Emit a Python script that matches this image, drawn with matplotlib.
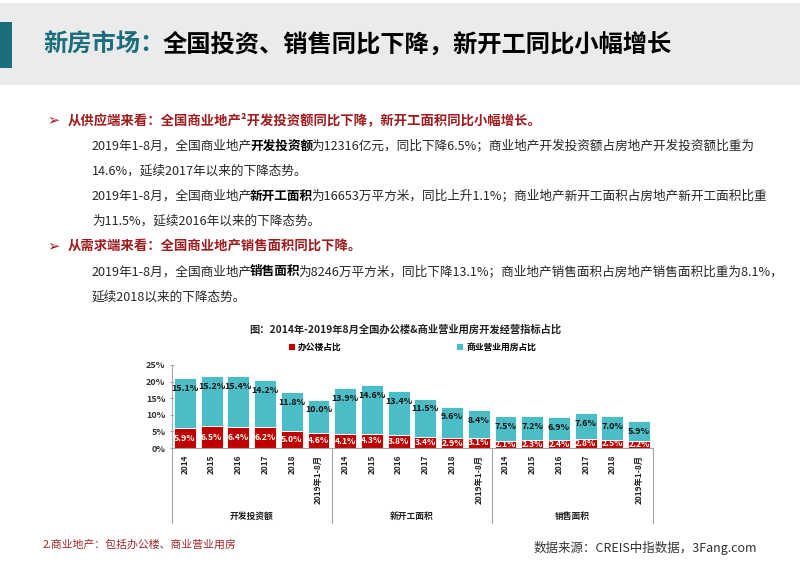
import matplotlib
matplotlib.use("Agg")
import matplotlib.pyplot as plt
import matplotlib.transforms as mtransforms
from matplotlib.patches import Rectangle
from matplotlib.lines import Line2D
import numpy as np

plt.rcParams['font.family'] = ['Noto Sans CJK SC', 'DejaVu Sans']
FAM = ['Noto Sans CJK SC', 'DejaVu Sans']

# 数据
groups = ['开发投资额', '新开工面积', '销售面积']
years = ['2014', '2015', '2016', '2017', '2018', '2019年1-8月']
office = [5.9, 6.5, 6.4, 6.2, 5.0, 4.6,
          4.1, 4.3, 3.8, 3.4, 2.9, 3.1,
          2.1, 2.3, 2.4, 2.8, 2.5, 2.2]
commercial = [15.1, 15.2, 15.4, 14.2, 11.8, 10.0,
              13.9, 14.6, 13.4, 11.5, 9.6, 8.4,
              7.5, 7.2, 6.9, 7.6, 7.0, 5.9]
yticks = [0, 5, 10, 15, 20, 25]

RED = '#C00000'
CYAN = '#4BBDC6'
DARKRED = '#9E1B1E'
TEAL = '#1B6E7E'

W, H = 800, 565
fig = plt.figure(figsize=(8, 5.65), dpi=100)
fig.patch.set_facecolor('white')


def fx(px):
    return px / W


def fy(py):
    return 1 - py / H


# 顶部标题栏
fig.patches.append(Rectangle((0, fy(85)), 1, fy(3) - fy(85), transform=fig.transFigure,
                             facecolor='#EBEBEB', edgecolor='none', zorder=0))
fig.patches.append(Rectangle((0, fy(68)), fx(12), fy(22) - fy(68), transform=fig.transFigure,
                             facecolor=TEAL, edgecolor='none', zorder=1))

renderer = fig.canvas.get_renderer()


def draw_runs(x, y, runs, size):
    # 逐段绘制文字（部分加粗 / 变色）
    for s, w, c in runs:
        t = fig.text(x, y, s, fontsize=size, fontweight=w, color=c,
                     ha='left', va='center', family=FAM)
        bb = t.get_window_extent(renderer=renderer)
        x = (bb.x1 - 2) / fig.bbox.width


draw_runs(fx(43), fy(45), [('新房市场：', 'bold', TEAL),
                           ('全国投资、销售同比下降，新开工同比小幅增长', 'bold', 'black')], 17.5)

# 正文
TXT = '#262626'
fs = 9.1
fh = 9.6
fig.text(fx(47), fy(120), '➢', fontsize=10.5, color=DARKRED, ha='left', va='center', family=['DejaVu Sans'])
draw_runs(fx(68), fy(120), [('从供应端来看：全国商业地产²开发投资额同比下降，新开工面积同比小幅增长。', 'bold', DARKRED)], fh)
draw_runs(fx(92), fy(146), [('2019年1-8月，全国商业地产', 'normal', TXT), ('开发投资额', 'bold', 'black'),
                            ('为12316亿元，同比下降6.5%；商业地产开发投资额占房地产开发投资额比重为', 'normal', TXT)], fs)
draw_runs(fx(92), fy(171), [('14.6%，延续2017年以来的下降态势。', 'normal', TXT)], fs)
draw_runs(fx(92), fy(196), [('2019年1-8月，全国商业地产', 'normal', TXT), ('新开工面积', 'bold', 'black'),
                            ('为16653万平方米，同比上升1.1%；商业地产新开工面积占房地产新开工面积比重', 'normal', TXT)], fs)
draw_runs(fx(92), fy(221), [('为11.5%，延续2016年以来的下降态势。', 'normal', TXT)], fs)
fig.text(fx(47), fy(246), '➢', fontsize=10.5, color=DARKRED, ha='left', va='center', family=['DejaVu Sans'])
draw_runs(fx(68), fy(246), [('从需求端来看：全国商业地产销售面积同比下降。', 'bold', DARKRED)], fh)
draw_runs(fx(92), fy(272), [('2019年1-8月，全国商业地产', 'normal', TXT), ('销售面积', 'bold', 'black'),
                            ('为8246万平方米，同比下降13.1%；商业地产销售面积占房地产销售面积比重为8.1%，', 'normal', TXT)], fs)
draw_runs(fx(92), fy(297), [('延续2018以来的下降态势。', 'normal', TXT)], fs)

# 图表
ax = fig.add_axes([fx(171.5), fy(448), fx(652.5) - fx(171.5), fy(365) - fy(448)])
x = np.arange(len(office))
b1 = ax.bar(x, office, width=0.82, color=RED, edgecolor='white', linewidth=0.6, label='办公楼占比', zorder=2)
b2 = ax.bar(x, commercial, width=0.82, bottom=office, color=CYAN, edgecolor='white', linewidth=0.6,
            label='商业营业用房占比', zorder=2)

for i in range(len(office)):
    ax.text(x[i], office[i] / 2, f'{office[i]:.1f}%', ha='center', va='center',
            fontsize=6.2, fontweight='bold', color='white', zorder=3)
    ax.annotate(f'{commercial[i]:.1f}%', (x[i], office[i] + commercial[i]), xytext=(0, -7.5),
                textcoords='offset points', ha='center', va='center',
                fontsize=6.4, fontweight='bold', color='#111111', zorder=3)

ax.set_xlim(-0.5, len(office) - 0.5)
ax.set_ylim(0, 25)
ax.set_yticks(yticks)
ax.set_yticklabels([f'{v}%' for v in yticks], fontsize=6.5, fontweight='bold', color='#333333')
ax.set_xticks(x)
ax.set_xticklabels(years * len(groups), rotation=90, fontsize=6, fontweight='bold', color='#222222', va='top')
ax.tick_params(axis='x', length=0, pad=5)
ax.tick_params(axis='y', length=3, width=0.6, color='#999999', pad=3, direction='inout')
for s in ['top', 'right']:
    ax.spines[s].set_visible(False)
for s in ['left', 'bottom']:
    ax.spines[s].set_color('#A6A6A6')
    ax.spines[s].set_linewidth(0.8)

trans = mtransforms.blended_transform_factory(ax.transData, ax.transAxes)
for k in range(len(groups) + 1):
    xd = k * len(years) - 0.5
    ax.add_line(Line2D([xd, xd], [0, -(523 - 448) / 83], transform=trans, color='#A6A6A6',
                       linewidth=0.8, clip_on=False))
for k, g in enumerate(groups):
    ax.text(k * len(years) + 2.5, -(516 - 448) / 83, g, transform=trans, ha='center', va='center',
            fontsize=6.3, fontweight='bold', color='#222222')

fig.text(fx(405), fy(330), '图：2014年-2019年8月全国办公楼&商业营业用房开发经营指标占比',
         ha='center', va='center', fontsize=7.4, fontweight='bold', color='#222222')
fig.legend(handles=[b1, b2], loc='center', bbox_to_anchor=(fx(412), fy(347)), ncol=2, frameon=False,
           prop={'size': 6.3, 'weight': 'bold', 'family': FAM}, handlelength=0.8, handleheight=0.8,
           handletextpad=0.4, columnspacing=13)

# 脚注
fig.text(fx(43), fy(545), '2.商业地产：包括办公楼、商业营业用房', ha='left', va='center',
         fontsize=7.8, color='#A0282B')
fig.text(fx(757), fy(548), '数据来源：CREIS中指数据，3Fang.com', ha='right', va='center',
         fontsize=9, color='#333333')

fig.savefig('out.png', dpi=100)
